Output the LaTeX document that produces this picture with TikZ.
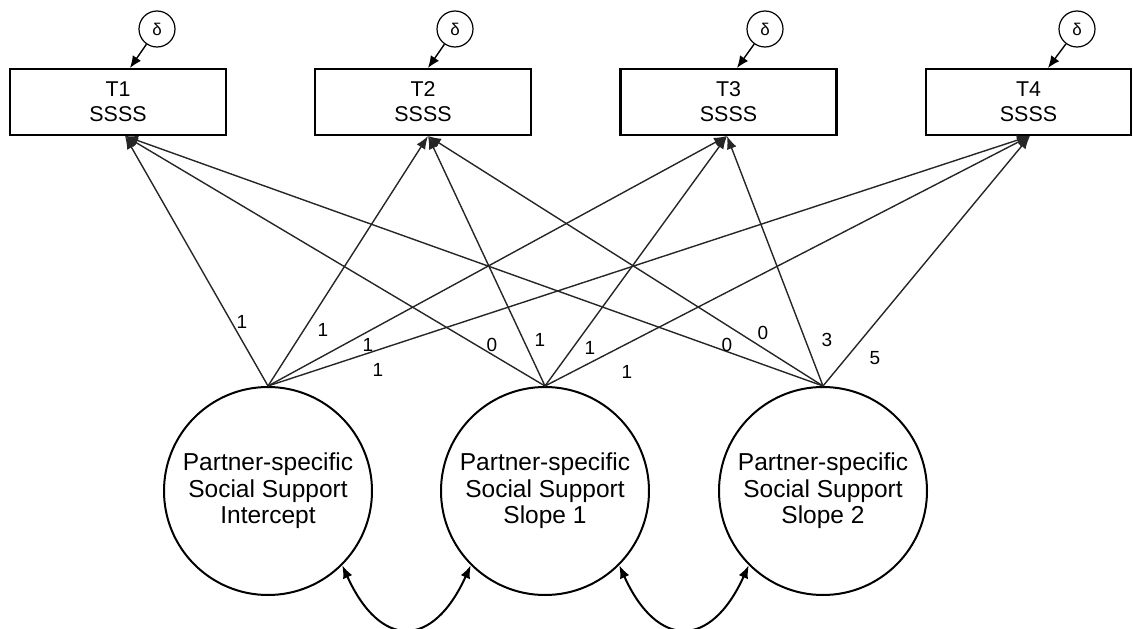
\documentclass[tikz,border=0pt]{standalone}
\usepackage{fontspec}
\setmainfont{Liberation Sans}
\usetikzlibrary{arrows.meta}
\begin{document}
\begin{tikzpicture}[x=1pt,y=-1pt,
  obs/.style={draw,line width=2.2pt,minimum width=216pt,minimum height=66pt,inner sep=0pt,align=center,font=\fontsize{21.4}{25}\selectfont},
  lat/.style={draw,circle,line width=2pt,minimum size=208pt,inner sep=0pt,align=center,font=\fontsize{24.5}{26.5}\selectfont},
  err/.style={draw,circle,line width=1.2pt,minimum size=36pt,inner sep=0pt,font=\fontsize{17}{17}\selectfont},
  loadarrow/.style={line width=1.4pt,draw=black!85,-{Latex[length=13pt,width=10pt]}},
  errarrow/.style={line width=1.4pt,-{Latex[length=12pt,width=10pt]}},
  cov/.style={line width=2pt,{Latex[length=13pt,width=10pt]}-{Latex[length=13pt,width=10pt]}},
  lbl/.style={font=\fontsize{19}{19}\selectfont,inner sep=0pt}
]
\useasboundingbox (0,0) rectangle (1133,629);

% observed boxes
\node[obs] (T1) at (118,102) {T1\\SSSS};
\node[obs] (T2) at (423,102) {T2\\SSSS};
\node[obs] (T3) at (728.5,102) {T3\\SSSS};
\node[obs,minimum width=205pt] (T4) at (1028.5,102) {T4\\SSSS};

% error terms
\node[err] (d1) at (157,29) {δ};
\node[err] (d2) at (455,29) {δ};
\node[err] (d3) at (765,29) {δ};
\node[err] (d4) at (1077,29) {δ};

\coordinate (e1) at (130,68);
\coordinate (e2) at (428,68);
\coordinate (e3) at (737,68);
\coordinate (e4) at (1048,68);

\foreach \i in {1,...,4} \draw[errarrow] (d\i) -- (e\i);

% arrow targets at box bottoms
\coordinate (b1) at (125,136);
\coordinate (b2) at (428,136);
\coordinate (b3) at (727,136);
\coordinate (b4) at (1030,136);

% latent factors
\node[lat] (I) at (268,491) {Partner-specific\\Social Support\\Intercept};
\node[lat] (S1) at (545,491) {Partner-specific\\Social Support\\Slope 1};
\node[lat] (S2) at (823,491) {Partner-specific\\Social Support\\Slope 2};

\foreach \s in {I,S1,S2}
  \foreach \t in {1,...,4}
    \draw[loadarrow] (\s.north) -- (b\t);

% covariances
\draw[cov] (I.-45) .. controls +(38,84) and +(-38,84) .. (S1.-135);
\draw[cov] (S1.-45) .. controls +(38,84) and +(-38,84) .. (S2.-135);

% loading labels
\node[lbl] (li1) at (242,322) {1};
\node[lbl] (li2) at (323,330) {1};
\node[lbl] (li3) at (368,345) {1};
\node[lbl] (li4) at (378,370) {1};
\node[lbl] (la1) at (492,345) {0};
\node[lbl] (la2) at (540,340) {1};
\node[lbl] (la3) at (590,348) {1};
\node[lbl] (la4) at (627,372) {1};
\node[lbl] (lb1) at (727,345) {0};
\node[lbl] (lb2) at (763,333) {0};
\node[lbl] (lb3) at (827,340) {3};
\node[lbl] (lb4) at (875,358) {5};
\end{tikzpicture}
\end{document}
